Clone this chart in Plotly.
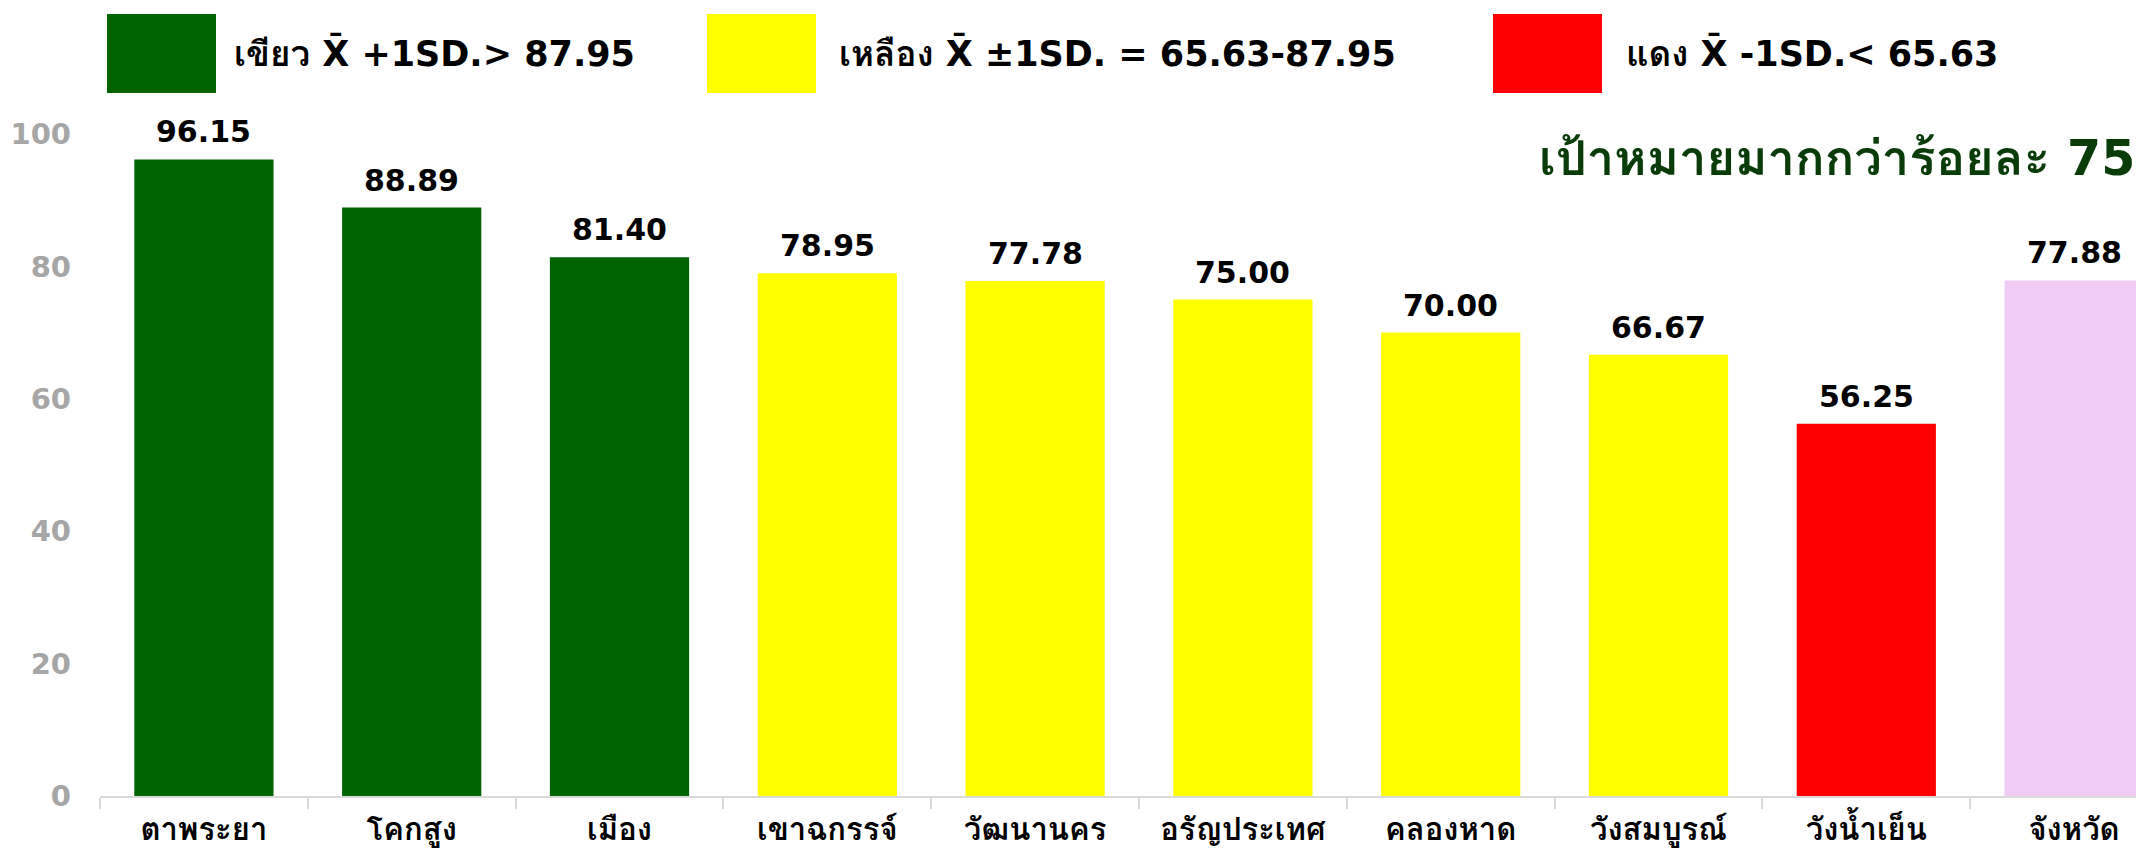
import plotly.graph_objects as go

categories = ["ตาพระยา", "โคกสูง", "เมือง", "เขาฉกรรจ์", "วัฒนานคร",
              "อรัญประเทศ", "คลองหาด", "วังสมบูรณ์", "วังน้ำเย็น", "จังหวัด"]
values = [96.15, 88.89, 81.40, 78.95, 77.78, 75.00, 70.00, 66.67, 56.25, 77.88]
bar_colors = ["#006400", "#006400", "#006400", "#FFFF00", "#FFFF00",
              "#FFFF00", "#FFFF00", "#FFFF00", "#FF0000", "#F0CCF5"]
y_ticks = [0, 20, 40, 60, 80, 100]
legend_names = ["เขียว", "เหลือง", "แดง"]
legend_rules = ["+1SD.> 87.95", "±1SD. = 65.63-87.95", "-1SD.< 65.63"]
legend_colors = ["#006400", "#FFFF00", "#FF0000"]
target_text = "เป้าหมายมากกว่าร้อยละ 75"

# body margin of the page is 8px, so the paper is offset by 8px
OFF = 8
W, H = 2144 - OFF, 850 - OFF
L, R, T, B = 100 - OFF, 0, 134 - OFF, 54
PW, PH = W - L - R, H - T - B

def px(x):  # screen pixel -> paper x
    return (x - OFF - L) / PW

def py(y):  # screen pixel -> paper y
    return (H - B - (y - OFF)) / PH

THAI = "Tahoma, 'DejaVu Sans', Loma, 'Noto Sans Thai Looped', 'Noto Sans Thai', Garuda, sans-serif"
NUM = "Verdana, 'DejaVu Sans', sans-serif"

fig = go.Figure(go.Bar(
    x=categories, y=values, marker=dict(color=bar_colors, line=dict(width=0)),
    width=0.67, hoverinfo="skip"))

annotations = []
for c, v in zip(categories, values):
    annotations.append(dict(
        x=c, y=v, xref="x", yref="y", text=f"{v:.2f}", showarrow=False,
        yanchor="bottom", yshift=8,
        font=dict(family=NUM, size=30, color="black", weight="bold")))

# legend boxes (screen pixel positions)
boxes = [(107, 216), (707, 816), (1493, 1602)]
text_x = [232, 837, 1624]
shapes = []
for (x0, x1), col, tx, name, rule in zip(boxes, legend_colors, text_x, legend_names, legend_rules):
    shapes.append(dict(type="rect", xref="paper", yref="paper",
                       x0=px(x0), x1=px(x1), y0=py(93), y1=py(14),
                       fillcolor=col, line=dict(width=0)))
    label = f"{name} <span style=\"font-family:'DejaVu Sans'\">X̄</span> {rule}"
    annotations.append(dict(x=px(tx), y=py(53), xref="paper", yref="paper",
                            xanchor="left", yanchor="middle", showarrow=False,
                            text=label, font=dict(family=THAI, size=35, color="black", weight="bold")))

annotations.append(dict(x=px(2137), y=py(158), xref="paper", yref="paper",
                        xanchor="right", yanchor="middle", showarrow=False,
                        text=target_text,
                        font=dict(family=THAI, size=49, color="#0A3C0A", weight="bold")))

fig.update_layout(
    width=W, height=H,
    margin=dict(l=L, r=R, t=T, b=B, pad=0),
    paper_bgcolor="white", plot_bgcolor="white",
    showlegend=False, bargap=0.33,
    xaxis=dict(range=[-0.5, -0.5 + PW / 207.8], showgrid=False, showline=True,
               linecolor="#D9D9D9", linewidth=2, ticks="outside", tickson="boundaries",
               ticklen=11, tickcolor="#D9D9D9", tickwidth=2, ticklabelstandoff=5,
               tickfont=dict(family=THAI, size=31, color="black", weight="bold"),
               fixedrange=True),
    yaxis=dict(range=[0, 100], tickvals=y_ticks, showgrid=False, showline=False,
               zeroline=False, ticks="", ticklabelstandoff=28,
               tickfont=dict(family=NUM, size=29, color="#A6A6A6", weight="bold"),
               fixedrange=True),
    annotations=annotations, shapes=shapes,
)

fig.write_html("out.html")
